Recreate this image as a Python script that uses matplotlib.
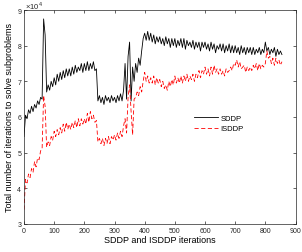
import numpy as np
import matplotlib
matplotlib.use('Agg')
import matplotlib.pyplot as plt
from matplotlib.ticker import ScalarFormatter

plt.rcParams['font.family'] = ['Liberation Sans', 'DejaVu Sans']
plt.rcParams['mathtext.fontset'] = 'custom'
plt.rcParams['mathtext.rm'] = 'Liberation Sans'

# iterations, every 5th one (0 .. 855)
iterations = np.arange(0, 860, 5)

# total inner iterations, units of 1e4
sddp = [5.45, 6.05, 5.95, 6.2, 6.1, 6.3, 6.15, 6.35, 6.25, 6.45,
        6.35, 6.55, 6.5, 8.75, 8.3, 6.7, 6.9, 6.75, 7.0, 6.85,
        7.1, 6.9, 7.2, 7.0, 7.25, 7.05, 7.3, 7.1, 7.35, 7.15,
        7.35, 7.15, 7.4, 7.2, 7.45, 7.25, 7.4, 7.3, 7.5, 7.25,
        7.5, 7.3, 7.55, 7.3, 7.5, 7.35, 7.55, 7.3, 7.35, 6.45,
        6.6, 6.4, 6.55, 6.35, 6.6, 6.45, 6.55, 6.4, 6.6, 6.45,
        6.55, 6.4, 6.6, 6.45, 6.65, 6.45, 6.75, 7.5, 6.5, 7.7,
        8.1, 6.45, 7.4, 7.0, 7.5, 7.25, 7.65, 7.45, 7.85, 8.2,
        8.35, 8.15, 8.4, 8.15, 8.35, 8.1, 8.3, 8.05, 8.25, 8.1,
        8.25, 8.05, 8.2, 8.0, 8.25, 8.05, 8.2, 7.95, 8.2, 8.0,
        8.2, 7.95, 8.15, 8.0, 8.2, 7.95, 8.2, 7.9, 8.15, 8.0,
        8.1, 7.95, 8.15, 7.9, 8.1, 7.95, 8.1, 7.85, 8.1, 7.95,
        8.1, 7.9, 8.05, 7.85, 8.1, 7.9, 8.05, 7.8, 8.0, 7.9,
        8.05, 7.85, 8.05, 7.8, 8.0, 7.85, 8.05, 7.8, 8.0, 7.8,
        8.0, 7.8, 7.95, 7.75, 8.0, 7.8, 7.95, 7.75, 7.95, 7.8,
        7.95, 7.75, 7.95, 7.75, 7.9, 7.8, 7.95, 7.75, 7.9, 7.8,
        8.1, 7.85, 7.95, 7.75, 7.9, 7.8, 7.95, 7.7, 7.9, 7.75,
        7.85, 7.75]

isddp = [3.4, 4.25, 4.15, 4.4, 4.3, 4.55, 4.45, 4.75, 4.6, 4.85,
         4.8, 5.05, 5.1, 6.6, 6.3, 5.15, 5.3, 5.2, 5.45, 5.35,
         5.6, 5.45, 5.65, 5.5, 5.7, 5.55, 5.8, 5.6, 5.85, 5.65,
         5.8, 5.65, 5.85, 5.7, 5.9, 5.7, 5.95, 5.75, 5.95, 5.8,
         5.95, 5.8, 6.1, 5.85, 6.15, 5.95, 6.05, 5.85, 5.9, 5.3,
         5.4, 5.25, 5.4, 5.2, 5.4, 5.25, 5.45, 5.25, 5.45, 5.35,
         5.5, 5.35, 5.55, 5.4, 5.6, 5.45, 5.75, 5.95, 5.55, 6.55,
         6.9, 6.15, 5.5, 6.5, 6.55, 6.7, 6.6, 6.85, 6.7, 7.0,
         7.25, 7.0, 7.15, 6.95, 7.1, 6.95, 7.15, 6.9, 7.1, 6.95,
         7.05, 6.85, 7.0, 6.8, 6.9, 6.75, 7.0, 6.85, 7.05, 6.9,
         7.15, 6.95, 7.1, 6.95, 7.15, 6.95, 7.15, 7.0, 7.2, 7.0,
         7.15, 7.05, 7.2, 7.0, 7.2, 7.1, 7.3, 7.1, 7.3, 7.2,
         7.4, 7.2, 7.35, 7.15, 7.4, 7.2, 7.45, 7.25, 7.35, 7.2,
         7.35, 7.2, 7.3, 7.15, 7.35, 7.25, 7.3, 7.4, 7.3, 7.5,
         7.45, 7.6, 7.4, 7.55, 7.35, 7.4, 7.45, 7.25, 7.4, 7.3,
         7.4, 7.3, 7.45, 7.35, 7.5, 7.3, 7.5, 7.35, 7.45, 7.4,
         7.5, 7.85, 7.65, 7.7, 7.5, 7.65, 7.45, 7.65, 7.5, 7.6,
         7.45, 7.55]

sddp = np.array(sddp) * 1e4
isddp = np.array(isddp) * 1e4

fig = plt.figure(figsize=(3.02, 2.53), dpi=100)
ax = fig.add_axes([0.0795, 0.111, 0.899, 0.8455])

ax.plot(iterations, sddp, color='black', lw=0.6, label='SDDP')
ax.plot(iterations, isddp, color='red', lw=0.6, linestyle=(0, (5, 3)), label='ISDDP')

ax.set_xlim(0, 900)
ax.set_ylim(3e4, 9e4)
ax.set_xticks(np.arange(0, 901, 100))
ax.set_yticks(np.arange(3e4, 9.1e4, 1e4))

fmt = ScalarFormatter()
fmt.set_powerlimits((0, 0))
ax.yaxis.set_major_formatter(fmt)
ax.yaxis.get_offset_text().set_visible(False)
# exponent label like matlab, above the top left corner
fig.text(25 / 302, 1 - 9 / 253, r'$\times10^4$', fontsize=5.5, color='#262626',
         ha='left', va='baseline')

ax.tick_params(direction='in', top=True, right=True, length=2, width=0.5,
               labelsize=5, pad=2, colors='#262626')
for s in ax.spines.values():
    s.set_linewidth(0.5)
    s.set_color('#262626')

ax.set_xlabel('SDDP and ISDDP iterations', fontsize=6.5, labelpad=1)
ax.set_ylabel('Total number of iterations to solve subproblems', fontsize=6.5, labelpad=2)

ax.legend(loc='upper left', bbox_to_anchor=(0.625, 0.51), frameon=False,
          fontsize=5.5, handlelength=3.2, handletextpad=0.3, labelspacing=0.35,
          borderpad=0, borderaxespad=0)

fig.savefig('out.png', dpi=100)
